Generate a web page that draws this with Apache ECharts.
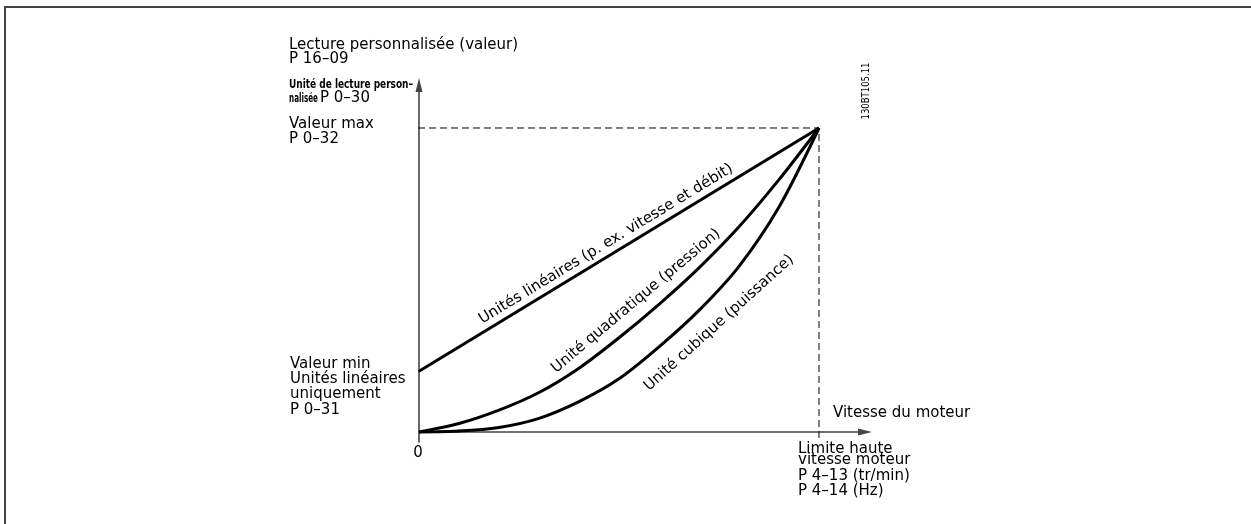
<!DOCTYPE html>
<html><head><meta charset="utf-8">
<script src="https://cdn.jsdelivr.net/npm/echarts@6/dist/echarts.min.js"></script>
<style>html,body{margin:0;padding:0;background:#fff}#c{width:1251px;height:524px}</style>
</head><body><div id="c"></div>
<script>
// Normalised motor speed (0 .. high speed limit) and read-out value (0 .. max value)
const speedLinear = [0, 1];
const valueLinear = [0.2, 1];
const speedCurve = [0, 0.1, 0.2, 0.3, 0.4, 0.5, 0.6, 0.7, 0.8, 0.9, 1];
const valueQuad  = [0, 0.028, 0.072, 0.13, 0.21, 0.31, 0.42, 0.54, 0.675, 0.83, 1];
const valueCubic = [0, 0.003, 0.015, 0.045, 0.1, 0.175, 0.28, 0.4, 0.545, 0.74, 1];
const maxValue = 1;
const minValue = 0.2;
const maxSpeed = 1;

const zip = (xs, ys) => xs.map((x, i) => [x, ys[i]]);
const FONT = '15px "DejaVu Sans"';
const SMALL = 'bold 12px "DejaVu Sans"';

const ctx = document.createElement('canvas').getContext('2d');
function fit(text, font, target) { ctx.font = font; return target / ctx.measureText(text).width; }

function txt(text, x, y, o) {
  o = o || {};
  return {
    type: 'text', x: x, y: y,
    rotation: o.rot ? o.rot * Math.PI / 180 : 0,
    scaleX: o.sx || 1,
    silent: true,
    style: {
      text: text, font: o.font || FONT, fill: '#000',
      align: o.align || 'left', verticalAlign: 'middle'
    }
  };
}

const chart = echarts.init(document.getElementById('c'), null, {renderer: 'canvas'});
chart.setOption({
  animation: false,
  backgroundColor: '#fff',
  grid: {left: 419, top: 85, width: 446, height: 357},
  xAxis: {
    type: 'value', min: 0, max: 1.115,
    axisLine: {show: true, onZero: true, symbol: ['none', 'triangle'], symbolSize: [7, 14],
      lineStyle: {color: '#444', width: 1.6}},
    axisTick: {show: false}, axisLabel: {show: false}, splitLine: {show: false}
  },
  yAxis: {
    type: 'value', min: -0.0329, max: 1.1414,
    axisLine: {show: true, onZero: true, symbol: ['none', 'triangle'], symbolSize: [7, 14],
      lineStyle: {color: '#444', width: 1.6}},
    axisTick: {show: false}, axisLabel: {show: false}, splitLine: {show: false}
  },
  series: [
    {type: 'line', data: [[-0.03, maxValue], [maxSpeed, maxValue], [maxSpeed, -0.0329]], clip: false,
      showSymbol: false, lineStyle: {color: '#000', width: 1, type: [7, 4]}, z: 1},
    {type: 'line', data: [[-0.0175, minValue], [0, minValue]], clip: false,
      showSymbol: false, lineStyle: {color: '#444', width: 1.6}, z: 1},
    {type: 'line', data: zip(speedLinear, valueLinear), showSymbol: false,
      lineStyle: {color: '#000', width: 3}, z: 3},
    {type: 'line', data: zip(speedCurve, valueQuad), smooth: 0.3, showSymbol: false,
      lineStyle: {color: '#000', width: 3}, z: 3},
    {type: 'line', data: zip(speedCurve, valueCubic), smooth: 0.3, showSymbol: false,
      lineStyle: {color: '#000', width: 3}, z: 3}
  ],
  graphic: [
    {type: 'polyline', silent: true, shape: {points: [[5, 524], [5, 7], [1251, 7]]},
      style: {stroke: '#444', lineWidth: 2, fill: null}},
    txt('Lecture personnalisée (valeur)', 289, 45),
    txt('P 16\u201309', 289, 59),
    txt('Unité de lecture person\u2013', 289, 84.5, {font: SMALL, sx: fit('Unité de lecture person\u2013', SMALL, 124)}),
    txt('nalisée', 289, 98.5, {font: SMALL, sx: fit('nalisée', SMALL, 29)}),
    txt('P 0\u201330', 320, 98),
    txt('Valeur max', 289, 124),
    txt('P 0\u201332', 289, 139),
    txt('Valeur min', 290, 364),
    txt('Unités linéaires', 290, 379),
    txt('uniquement', 290, 394),
    txt('P 0\u201331', 290, 410),
    txt('0', 418, 453, {align: 'center'}),
    txt('Vitesse du moteur', 833, 413),
    txt('Limite haute', 798, 449),
    txt('vitesse moteur', 798, 460),
    txt('P 4\u201313 (tr/min)', 798, 476),
    txt('P 4\u201314 (Hz)', 798, 491),
    txt('130BT105.11', 866, 91, {font: '11px "DejaVu Sans"', rot: 90, align: 'center',
      sx: fit('130BT105.11', '11px "DejaVu Sans"', 57)}),
    txt('Unités linéaires (p. ex. vitesse et débit)', 606, 244, {rot: 31.3, align: 'center'}),
    txt('Unité quadratique (pression)', 636, 301, {rot: 40, align: 'center'}),
    txt('Unité cubique (puissance)', 719, 323, {rot: 42, align: 'center'})
  ]
});
</script>
</body></html>
